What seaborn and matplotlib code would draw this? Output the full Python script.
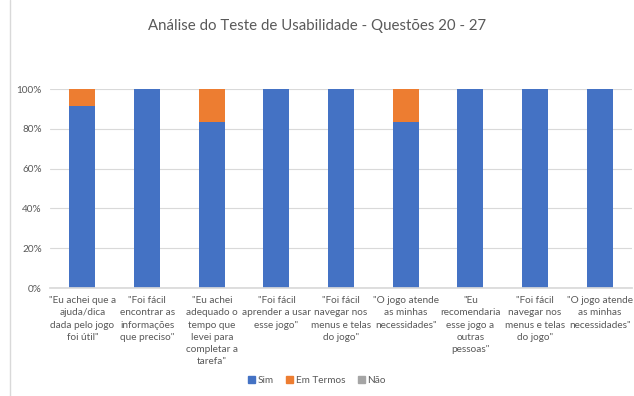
import seaborn as sns
import matplotlib.pyplot as plt
import pandas as pd

# dados (percentual de respostas por questão)
questoes = ["Q20", "Q21", "Q22", "Q23", "Q24", "Q25", "Q26", "Q27a", "Q27b"]
rotulos = [
    '"Eu achei que a\najuda/dica\ndada pelo jogo\nfoi útil"',
    '"Foi fácil\nencontrar as\ninformações\nque preciso"',
    '"Eu achei\nadequado o\ntempo que\nlevei para\ncompletar a\ntarefa"',
    '"Foi fácil\naprender a usar\nesse jogo"',
    '"Foi fácil\nnavegar nos\nmenus e telas\ndo jogo"',
    '"O jogo atende\nas minhas\nnecessidades"',
    '"Eu\nrecomendaria\nesse jogo a\noutras\npessoas"',
    '"Foi fácil\nnavegar nos\nmenus e telas\ndo jogo"',
    '"O jogo atende\nas minhas\nnecessidades"',
]
sim = [91.7, 100, 83.3, 100, 100, 83.3, 100, 100, 100]
em_termos = [8.3, 0, 16.7, 0, 0, 16.7, 0, 0, 0]
nao = [0, 0, 0, 0, 0, 0, 0, 0, 0]

cores = {"Sim": "#4472C4", "Em Termos": "#ED7D31", "Não": "#A5A5A5"}
cinza = "#595959"

df = pd.DataFrame({"questao": questoes, "Sim": sim, "Em Termos": em_termos, "Não": nao})
df["topo_em"] = df["Sim"] + df["Em Termos"]
df["topo_nao"] = df["topo_em"] + df["Não"]

sns.set_theme(style="white")
plt.rcParams["font.family"] = ["Lato", "DejaVu Sans"]

fig = plt.figure(figsize=(6.34, 3.96), dpi=100)
ax = fig.add_axes([0.079, 0.2727, 0.918, 0.5025])

# barras empilhadas: desenha do topo para a base
kw = dict(width=0.4, ax=ax, saturation=1, linewidth=0, zorder=2)
sns.barplot(data=df, x="questao", y="topo_nao", color=cores["Não"], **kw)
sns.barplot(data=df, x="questao", y="topo_em", color=cores["Em Termos"], **kw)
sns.barplot(data=df, x="questao", y="Sim", color=cores["Sim"], **kw)

ax.set_ylim(0, 100)
ax.set_yticks(range(0, 101, 20))
ax.set_yticklabels([f"{v}%" for v in range(0, 101, 20)], fontsize=7.2, color=cinza)
ax.set_xticks(range(len(questoes)))
ax.set_xticklabels(rotulos, fontsize=7.2, color=cinza, linespacing=1.45, va="top")
ax.tick_params(axis="both", length=0, pad=6)
ax.set_xlabel("")
ax.set_ylabel("")
ax.yaxis.grid(True, color="#D9D9D9", linewidth=0.8, zorder=0)
ax.set_axisbelow(True)
for s in ["top", "right", "left"]:
    ax.spines[s].set_visible(False)
ax.spines["bottom"].set_color("#D9D9D9")
ax.set_xlim(-0.5, len(questoes) - 0.5)

fig.text(0.5, 0.935, "Análise do Teste de Usabilidade - Questões 20 - 27",
         ha="center", va="center", fontsize=10.8, color=cinza)

handles = [plt.Rectangle((0, 0), 1, 1, color=c) for c in cores.values()]
fig.legend(handles, list(cores.keys()), loc="center", bbox_to_anchor=(0.5, 0.038),
           ncol=3, frameon=False, fontsize=7.2, handlelength=0.7, handleheight=0.7,
           handletextpad=0.3, columnspacing=1.2, labelcolor=cinza)

# borda esquerda do quadro
fig.add_artist(plt.Line2D([0.016, 0.016], [0, 1], color="#D9D9D9", linewidth=1))

fig.savefig("out.png", dpi=100)
